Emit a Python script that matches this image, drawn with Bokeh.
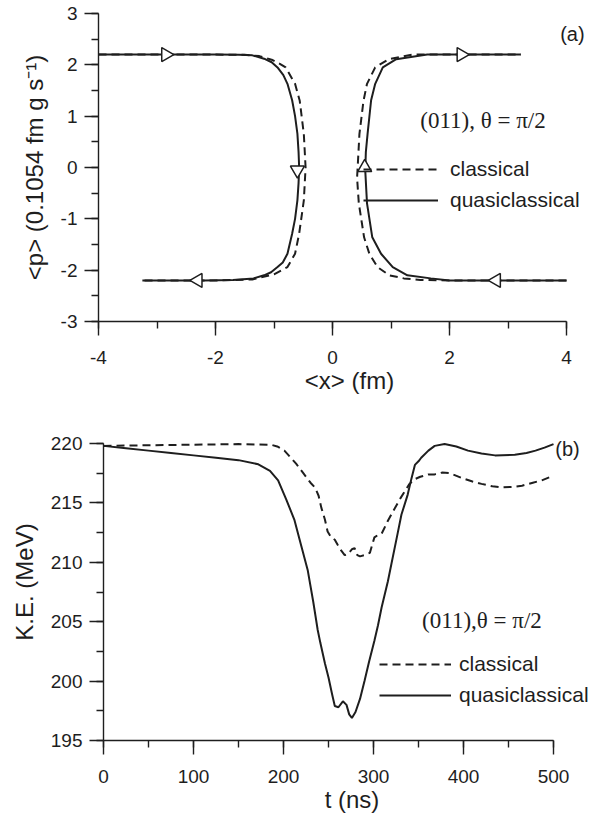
from bokeh.plotting import figure
from bokeh.layouts import column
from bokeh.models import (Range1d, SingleIntervalTicker, Label, Legend, LegendItem,
                          CustomJSTickFormatter)
from bokeh.embed import file_html
from bokeh.resources import INLINE
import math

# ---------------- panel (a) data: phase-space trajectories ----------------
xa_q_left = [-4.0, -3.0, -2.0, -1.6, -1.37, -1.17, -1.04, -0.94, -0.84, -0.77, -0.69, -0.64, -0.60,
             -0.58, -0.57, -0.58, -0.60, -0.64, -0.69, -0.77, -0.85, -0.94, -1.05, -1.17, -1.35,
             -1.7, -2.2, -3.25]
pa_q_left = [2.2, 2.2, 2.2, 2.195, 2.185, 2.12, 2.05, 1.95, 1.8, 1.63, 1.31, 1.0, 0.66,
             0.3, 0.0, -0.3, -0.64, -1.0, -1.29, -1.68, -1.85, -1.94, -2.04, -2.1, -2.16,
             -2.19, -2.2, -2.2]
xa_c_left = [-4.0, -3.0, -2.0, -1.5, -1.25, -1.04, -0.9, -0.8, -0.64, -0.56, -0.49, -0.46,
             -0.49, -0.57, -0.64, -0.77, -1.0, -1.37, -2.0, -3.25]
pa_c_left = [2.2, 2.2, 2.2, 2.195, 2.17, 2.1, 2.02, 1.95, 1.63, 1.30, 0.65, 0.0,
             -0.64, -1.29, -1.68, -1.94, -2.08, -2.18, -2.2, -2.2]
xa_q_right = [4.0, 3.0, 2.0, 1.68, 1.28, 1.03, 0.83, 0.68, 0.59, 0.56, 0.57, 0.60, 0.66, 0.73,
              0.86, 1.09, 1.62, 2.5, 3.22]
pa_q_right = [-2.2, -2.2, -2.2, -2.16, -2.1, -1.94, -1.68, -1.36, -0.70, -0.06, 0.3, 0.66, 1.31,
              1.63, 1.95, 2.11, 2.2, 2.2, 2.2]
xa_c_right = [4.0, 3.0, 2.0, 1.5, 1.22, 0.97, 0.77, 0.63, 0.54, 0.45, 0.42, 0.43, 0.46, 0.53,
              0.59, 0.73, 0.96, 1.36, 2.5, 3.22]
pa_c_right = [-2.2, -2.2, -2.2, -2.19, -2.16, -2.1, -1.94, -1.68, -1.36, -0.70, -0.2, 0.0, 0.65,
              1.3, 1.63, 1.95, 2.11, 2.2, 2.2, 2.2]
arrow_x = [-2.85, -0.6, -2.3, 2.2, 0.55, 2.8]
arrow_y = [2.2, -0.05, -2.2, 2.2, 0.0, -2.2]
arrow_dir = [-math.pi / 2, math.pi, math.pi / 2, -math.pi / 2, 0.0, math.pi / 2]

# ---------------- panel (b) data: kinetic energy vs time ----------------
t_q = [0, 25, 50, 75, 100, 125, 150, 172, 185, 194, 203, 212, 220, 227, 233, 238, 241, 246, 250,
       254, 257, 261, 266, 270, 273, 276, 280, 285, 290, 295, 301, 305, 309, 316, 320, 327, 331,
       338, 342, 346, 350, 353, 361, 368, 379, 392, 405, 420, 435, 457, 470, 480, 490, 500]
ke_q = [219.8, 219.6, 219.4, 219.2, 219.0, 218.8, 218.6, 218.25, 217.7, 216.9, 215.3, 213.6,
        211.3, 209.3, 206.7, 204.3, 203.2, 201.5, 200.3, 198.9, 197.9, 197.8, 198.3, 198.0,
        197.2, 196.9, 197.4, 198.5, 200.0, 201.6, 203.4, 204.7, 206.2, 208.4, 209.9, 212.5,
        214.0, 215.7, 217.0, 218.2, 218.5, 218.8, 219.4, 219.8, 219.95, 219.75, 219.4, 219.15,
        219.0, 219.05, 219.2, 219.4, 219.65, 219.95]
t_c = [0, 50, 100, 150, 186, 193, 201, 207, 214, 222, 230, 235, 239, 242, 246, 249, 253, 257,
       260, 264, 268, 272, 276, 279, 282, 285, 290, 296, 301, 305, 309, 316, 324, 330, 335, 340,
       346, 352, 361, 368, 376, 385, 398, 410, 420, 432, 442, 455, 465, 477, 487, 500]
ke_c = [219.8, 219.85, 219.9, 219.95, 219.9, 219.75, 219.4, 218.9, 218.3, 217.5, 216.7, 216.3,
        215.6, 214.6, 213.6, 212.6, 212.1, 211.9, 211.5, 211.0, 210.6, 210.7, 211.1, 211.2,
        210.6, 210.5, 210.6, 210.8, 212.1, 212.3, 212.4, 213.5, 214.6, 215.4, 216.0, 216.6,
        217.0, 217.2, 217.4, 217.4, 217.55, 217.5, 217.1, 216.8, 216.6, 216.4, 216.3, 216.35,
        216.45, 216.7, 216.9, 217.3]

legend_labels = ["classical", "quasiclassical"]

INK = "#1e1e1e"
SANS = "Liberation Sans"
SERIF = "Liberation Serif"
DASH = "8 5"


def style_axes(p, xint, yint, title_x, title_y, xbounds, ybounds):
    p.xaxis.ticker = SingleIntervalTicker(interval=xint, num_minor_ticks=2)
    p.yaxis.ticker = SingleIntervalTicker(interval=yint, num_minor_ticks=2)
    p.xaxis.axis_label = title_x
    p.yaxis.axis_label = title_y
    p.xaxis.bounds = xbounds
    p.yaxis.bounds = ybounds
    for ax in (p.xaxis, p.yaxis):
        ax.formatter = CustomJSTickFormatter(code="return String(tick);")
        ax.axis_line_color = INK
        ax.axis_line_width = 1.4
        ax.major_tick_line_color = INK
        ax.minor_tick_line_color = INK
        ax.major_tick_line_width = 1.4
        ax.minor_tick_line_width = 1.4
        ax.major_tick_out = 14
        ax.major_tick_in = 0
        ax.minor_tick_out = 7
        ax.minor_tick_in = 0
        ax.major_label_text_font = SANS
        ax.major_label_text_font_size = "19px"
        ax.major_label_text_color = INK
        ax.axis_label_text_font = SANS
        ax.axis_label_text_font_size = "24px"
        ax.axis_label_text_font_style = "normal"
        ax.axis_label_text_color = INK
    p.xaxis.major_label_standoff = 15
    p.yaxis.major_label_standoff = 7
    p.xaxis.axis_label_standoff = 0
    p.yaxis.axis_label_standoff = 10
    p.xgrid.visible = False
    p.ygrid.visible = False
    p.outline_line_color = None
    p.frame_align = False


# ---------------- figure (a) ----------------
# x: -4 .. 4 spans 468 px; the frame runs on to the right so that texts there are not cut
pa = figure(frame_width=502, frame_height=308,
            x_range=Range1d(-4, -4 + 502 / 58.5), y_range=Range1d(-3, 3),
            output_backend="svg", toolbar_location=None,
            min_border_left=98, min_border_right=0, min_border_top=13, min_border_bottom=80)
style_axes(pa, 2, 1, "<x> (fm)", "<p> (0.1054 fm g s\u207b\u00b9)", (-4, 4), (-3, 3))

ca1 = pa.line(xa_c_left, pa_c_left, line_color=INK, line_width=2, line_dash=DASH)
pa.line(xa_c_right, pa_c_right, line_color=INK, line_width=2, line_dash=DASH)
qa1 = pa.line(xa_q_left, pa_q_left, line_color=INK, line_width=2)
pa.line(xa_q_right, pa_q_right, line_color=INK, line_width=2)
pa.scatter(arrow_x, arrow_y, marker="triangle", angle=arrow_dir, size=14,
           fill_color="white", line_color=INK, line_width=1.5)

leg_a = Legend(items=[LegendItem(label=legend_labels[0], renderers=[ca1]),
                      LegendItem(label=legend_labels[1], renderers=[qa1])],
               location=(265, 109), orientation="vertical", padding=0, margin=0,
               spacing=7, glyph_width=75, glyph_height=20, label_height=20,
               label_standoff=12, border_line_alpha=0, background_fill_alpha=0,
               label_text_font=SANS, label_text_font_size="21px", label_text_color=INK)
pa.add_layout(leg_a, "center")

pa.add_layout(Label(x=1.5, y=0.92, text="(011), \u03b8 = \u03c0/2", text_font=SERIF,
                    text_font_size="23px", text_color=INK, text_baseline="middle"))
pa.add_layout(Label(x=4.31, y=2.61, text="(a)", text_font=SANS, text_font_size="20px",
                    text_color=INK, text_baseline="middle", text_align="right"))

# ---------------- figure (b) ----------------
# t: 0 .. 500 spans 450 px; K.E. 195 .. 220 spans 297 px, frame runs 20 px above 220
pb = figure(frame_width=497, frame_height=317,
            x_range=Range1d(0, 497 / 0.9), y_range=Range1d(195, 220 + 20 * 25 / 297),
            output_backend="svg", toolbar_location=None,
            min_border_left=103, min_border_right=0, min_border_top=22, min_border_bottom=76)
style_axes(pb, 100, 5, "t (ns)", "K.E. (MeV)", (0, 500), (195, 220))

cb = pb.line(t_c, ke_c, line_color=INK, line_width=2, line_dash=DASH)
qb = pb.line(t_q, ke_q, line_color=INK, line_width=2)

leg_b = Legend(items=[LegendItem(label=legend_labels[0], renderers=[cb]),
                      LegendItem(label=legend_labels[1], renderers=[qb])],
               location=(276, 33), orientation="vertical", padding=0, margin=0,
               spacing=7, glyph_width=72, glyph_height=20, label_height=20,
               label_standoff=8, border_line_alpha=0, background_fill_alpha=0,
               label_text_font=SANS, label_text_font_size="21px", label_text_color=INK)
pb.add_layout(leg_b, "center")

pb.add_layout(Label(x=354, y=205.1, text="(011),\u03b8 = \u03c0/2", text_font=SERIF,
                    text_font_size="23px", text_color=INK, text_baseline="middle"))
pb.add_layout(Label(x=502, y=219.5, text="(b)", text_font=SANS, text_font_size="20px",
                    text_color=INK, text_baseline="middle", text_align="left"))

layout = column(pa, pb, spacing=0)
open("out.html", "w").write(file_html(layout, INLINE))
